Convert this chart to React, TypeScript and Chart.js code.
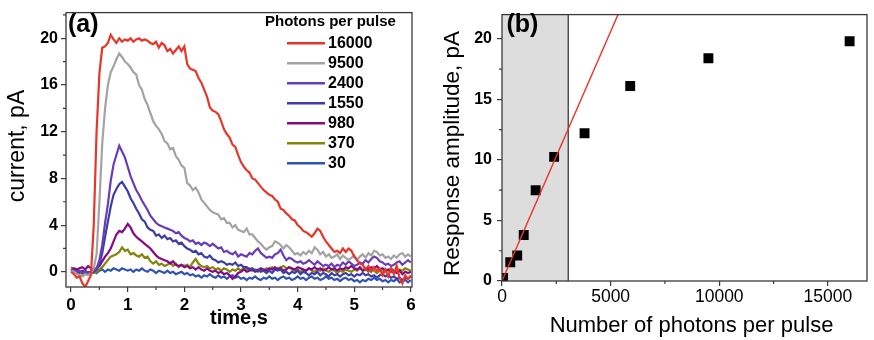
import React, { useEffect, useRef } from 'react';
import { Chart, registerables } from 'chart.js';

Chart.register(...registerables);

// ---------------- Panel (a): current traces ----------------
const TIME_STEP_S = 0.05;
const TIME_S: number[] = Array.from({ length: 121 }, (_, i) => Math.round(i * TIME_STEP_S * 100) / 100);
const TIME_TICKS = [0, 1, 2, 3, 4, 5, 6];
const CURRENT_TICKS = [0, 4, 8, 12, 16, 20];

const PULSE_LABELS = ['16000', '9500', '2400', '1550', '980', '370', '30'];
const PULSE_COLORS = ['#e8352a', '#a3a3a3', '#6a3db8', '#3d3daa', '#860a86', '#85850a', '#2f52b3'];

const CURRENT_16000 = [
  0, -0.2, -0.5, -0.4, -1.0, -1.3, -0.8, -0.3, 4.0, 12.0, 17.0, 19.2, 19.3, 19.6, 20.3, 19.9, 19.6, 20.0, 19.7, 19.9,
  19.8, 20.0, 19.7, 19.9, 20.0, 19.8, 19.9, 19.8, 19.6, 19.5, 19.7, 19.2, 19.6, 19.4, 18.9, 19.1, 18.7, 19.0, 19.3, 18.9,
  19.3, 17.8, 17.4, 17.3, 17.2, 16.6, 16.2, 15.6, 15.0, 14.1, 13.8, 13.7, 13.5, 12.9, 12.2, 11.8, 11.5, 10.9, 10.7, 10.0,
  9.4, 9.0, 8.7, 8.5, 8.0, 7.9, 7.6, 7.3, 7.0, 6.8, 6.6, 6.5, 6.2, 6.0, 5.4, 5.3, 5.0, 4.8, 4.5, 4.4,
  4.0, 3.8, 3.5, 3.4, 3.2, 3.0, 3.3, 3.7, 3.5, 3.0, 2.6, 2.3, 2.0, 1.7, 1.8, 1.6, 2.0, 1.7, 2.0, 1.8,
  1.3, 1.0, 0.7, 0.6, 0.2, 0.5, 0.0, 0.4, 0.1, 0.3, -0.3, 0.2, -0.4, 0.3, -0.2, 0.5, -0.5, -1.0, -0.3, -0.6,
  -0.3,
];
const CURRENT_9500 = [
  0.1, 0, -0.2, -0.3, -0.4, -0.2, -0.3, -0.1, 0.3, 1.5, 6.0, 11.0, 14.0, 16.0, 17.1, 17.6, 18.2, 18.7, 18.4, 18.0,
  17.8, 17.5, 17.1, 16.9, 16.0, 15.6, 14.8, 14.3, 13.6, 12.9, 12.5, 12.2, 11.8, 11.2, 11.0, 10.5, 10.6, 9.9, 9.6, 9.1,
  8.9, 7.6, 7.4, 7.0, 7.2, 6.8, 6.2, 5.9, 5.6, 5.3, 5.1, 5.0, 4.9, 4.5, 4.6, 4.2, 4.2, 3.8, 4.0, 3.6,
  3.5, 3.4, 3.7, 3.2, 3.2, 2.9, 2.6, 2.4, 2.1, 1.9, 2.1, 2.2, 2.6, 2.5, 2.3, 2.0, 2.3, 2.1, 1.8, 1.5,
  1.6, 1.4, 1.7, 1.5, 1.8, 1.6, 2.1, 1.9, 1.5, 1.7, 1.3, 1.5, 1.2, 1.3, 1.5, 1.1, 1.4, 1.2, 1.0, 1.2,
  1.4, 1.0, 1.3, 1.5, 1.2, 1.6, 1.4, 1.8, 1.7, 1.4, 1.5, 1.2, 1.3, 1.1, 1.4, 1.2, 1.5, 1.6, 1.3, 1.5,
  1.3,
];
const CURRENT_2400 = [
  0.2, 0.1, 0, 0.1, -0.1, 0, -0.1, 0, 0.1, 0.3, 1.0, 2.3, 4.2, 5.8, 7.8, 9.2, 10.0, 10.8, 10.3, 9.8,
  9.0, 8.2, 7.6, 7.0, 6.6, 6.1, 5.7, 5.3, 4.8, 4.5, 4.2, 4.0, 3.9, 3.8, 3.7, 3.6, 3.5, 3.3, 3.4, 3.1,
  2.9, 2.8, 2.6, 2.7, 2.4, 2.5, 2.3, 2.5, 2.4, 2.2, 2.4, 2.2, 2.0, 2.1, 1.7, 1.8, 1.6, 1.5, 1.7, 1.3,
  1.5, 1.4, 1.3, 1.6, 1.5, 1.8, 2.0, 1.6, 1.4, 1.2, 1.3, 1.2, 1.5, 1.6, 1.9, 1.4, 1.0, 1.2, 1.1, 0.9,
  0.8, 0.9, 0.7, 0.8, 1.0, 0.8, 0.6, 0.9, 0.7, 0.5, 0.6, 0.5, 0.7, 0.4, 0.6, 0.5, 0.8, 0.6, 0.9, 0.7,
  0.5, 0.6, 0.8, 0.7, 1.0, 0.8, 1.1, 1.3, 1.2, 0.9, 0.8, 0.6, 0.7, 0.5, 0.6, 0.8, 0.9, 0.6, 0.8, 1.0,
  0.8,
];
const CURRENT_1550 = [
  0, 0.1, -0.1, 0, 0.1, -0.1, 0, -0.1, 0, 0.2, 0.6, 1.6, 3.0, 4.3, 5.6, 6.6, 7.1, 7.5, 7.7, 7.3,
  6.9, 6.3, 5.9, 5.4, 5.0, 4.5, 4.3, 3.8, 3.6, 3.5, 3.1, 3.2, 2.9, 3.1, 2.8, 2.9, 2.6, 2.7, 2.4, 2.5,
  2.2, 2.0, 1.9, 1.7, 1.8, 1.5, 1.6, 1.3, 1.2, 1.4, 1.1, 1.0, 0.8, 0.9, 0.8, 0.6, 0.7, 0.6, 0.8, 0.5,
  0.6, 0.4, 0.4, 0.2, 0.3, 0.1, 0.2, 0, 0.1, -0.1, 0.1, -0.1, 0.2, 0.1, 0.2, -0.1, 0, -0.2, 0, -0.1,
  0.1, -0.2, 0, -0.1, -0.3, -0.1, -0.2, 0, -0.3, -0.1, -0.2, -0.4, -0.1, -0.3, -0.2, -0.4, -0.2, -0.1, -0.3, -0.2,
  -0.4, -0.2, -0.3, -0.1, -0.3, -0.2, -0.4, -0.3, -0.5, -0.3, -0.2, -0.4, -0.3, -0.5, -0.4, -0.6, -0.5, -0.7, -0.5, -0.6,
  -0.4,
];
const CURRENT_980 = [
  0.1, 0.3, 0.2, 0.3, 0.4, 0.2, 0.5, 0.3, 0.2, 0.3, 0.5, 0.9, 1.3, 1.6, 2.0, 2.6, 3.2, 3.5, 3.4, 3.7,
  4.1, 3.8, 3.3, 3.0, 2.8, 2.6, 2.4, 2.2, 2.0, 1.7, 1.4, 1.2, 1.1, 1.0, 0.9, 0.7, 0.9, 0.6, 0.5, 0.6,
  0.4, 0.5, 0.3, 0.4, 0.2, 0.4, 0.2, 0.1, 0.3, 0.1, 0, 0.1, -0.1, 0, -0.2, -0.1, -0.3, -0.6, -0.4, -0.1,
  0, 0.2, 0, 0.1, 0.2, 0, 0.1, 0.3, 0.2, 0.1, 0.3, 0.2, 0.4, 0.2, 0.3, 0.1, 0.2, 0.4, 0.3, 0.2,
  0.4, 0.3, 0.2, 0.1, 0.3, 0.2, 0.4, 0.2, 0.3, 0.1, 0.2, 0.4, 0.2, 0.3, 0.1, 0.3, 0.2, 0.4, 0.3, 0.5,
  0.3, 0.2, 0.4, 0.1, 0.3, 0.2, 0.4, 0.3, 0.5, 0.2, 0.3, 0.1, 0.2, 0, 0.1, -0.1, 0.1, -0.2, 0, -0.1,
  0,
];
const CURRENT_370 = [
  0.4, 0.2, -0.1, 0, -0.2, 0.1, -0.1, 0, -0.1, 0, 0.2, 0.4, 0.7, 1.0, 1.3, 1.4, 1.5, 1.7, 2.1, 1.8,
  1.9, 1.5, 1.6, 1.4, 1.3, 1.5, 1.2, 1.3, 0.9, 0.7, 0.9, 0.6, 0.7, 0.5, 0.6, 0.8, 0.5, 0.7, 0.4, 0.6,
  0.5, 0.6, 0.4, 0.8, 1.1, 0.7, 0.5, 0.4, 0.5, 0.3, 0.4, 0.2, 0.3, 0.1, 0.3, 0.2, 0, 0.2, 0.1, 0.3,
  0.1, 0.4, 0.2, 0.3, 0.1, 0.2, 0, 0.2, 0.1, 0.3, 0.2, 0.4, 0.2, 0.3, 0.4, 0.5, 0.3, 0.4, 0.2, 0.1,
  0.2, 0, 0.2, 0.1, 0.3, 0.1, 0, 0.2, 0.1, 0.3, 0.1, 0, 0.2, 0.1, -0.1, 0.1, 0, 0.2, 0.1, 0,
  0.2, 0.1, 0.3, 0.1, 0.2, 0, 0.2, 0.1, -0.1, 0.1, 0, 0.2, 0.1, 0.3, 0.1, 0, 0.2, 0.1, 0.3, 0.2,
  0.1,
];
const CURRENT_30 = [
  0.1, 0, 0.1, -0.1, 0, 0.1, -0.1, 0, 0.1, -0.1, 0.1, 0.2, 0, 0.2, 0.1, 0.3, 0.2, 0.1, 0.3, 0.2,
  0.1, 0.2, 0, 0.2, 0.1, 0.3, 0.1, 0, 0.2, 0.1, -0.1, 0.1, 0, -0.1, 0.1, -0.1, 0, -0.2, -0.1, 0,
  -0.2, -0.1, -0.3, -0.2, -0.4, -0.3, -0.5, -0.3, -0.4, -0.2, -0.4, -0.5, -0.3, -0.5, -0.4, -0.6, -0.4, -0.3, -0.5, -0.4,
  -0.6, -0.5, -0.7, -0.5, -0.6, -0.4, -0.6, -0.7, -0.5, -0.6, -0.4, -0.6, -0.5, -0.7, -0.5, -0.4, -0.6, -0.5, -0.7, -0.6,
  -0.4, -0.6, -0.5, -0.7, -0.5, -0.4, -0.6, -0.5, -0.7, -0.6, -0.4, -0.6, -0.5, -0.7, -0.6, -0.8, -0.6, -0.5, -0.7, -0.6,
  -0.8, -0.7, -0.9, -0.7, -0.8, -0.6, -0.7, -0.5, -0.7, -0.6, -0.8, -0.7, -0.9, -0.7, -0.8, -0.6, -0.9, -0.8, -0.7, -0.9,
  -0.7,
];
const CURRENT_SERIES = [CURRENT_16000, CURRENT_9500, CURRENT_2400, CURRENT_1550, CURRENT_980, CURRENT_370, CURRENT_30];

// ---------------- Panel (b): response amplitude ----------------
const PHOTONS_PER_PULSE = [50, 380, 700, 1000, 1550, 2400, 3800, 5900, 9500, 16000];
const RESPONSE_PA = [0.25, 1.55, 2.1, 3.8, 7.5, 10.25, 12.2, 16.1, 18.4, 19.8];
const PHOTON_TICKS = [0, 5000, 10000, 15000];
const AMPLITUDE_TICKS = [0, 5, 10, 15, 20];
const FIT_SLOPE_PA_PER_PHOTON = 0.00412;
const LINEAR_RANGE_LIMIT = 3050;

// ---------------- Styling ----------------
const FONT = "'Liberation Sans', Arial, Helvetica, sans-serif";
const AXIS_COLOR = '#3a3a3a';
const TEXT_COLOR = '#000';

function frameAndMinor(xMinor: number, yMinor: number) {
  return {
    id: 'frameAndMinor',
    afterDraw(chart: any) {
      const { ctx, chartArea: a, scales } = chart;
      const xs = scales.x;
      const ys = scales.y;
      const mx = xs.ticks.map((t: any) => t.value);
      const my = ys.ticks.map((t: any) => t.value);
      ctx.save();
      ctx.strokeStyle = AXIS_COLOR;
      ctx.lineWidth = 1.2;
      ctx.beginPath();
      for (let k = Math.ceil(xs.min / xMinor); k * xMinor <= xs.max + 1e-9; k++) {
        const v = k * xMinor;
        if (mx.some((m: number) => Math.abs(m - v) < 1e-6)) continue;
        const px = xs.getPixelForValue(v);
        ctx.moveTo(px, a.bottom);
        ctx.lineTo(px, a.bottom + 3);
      }
      for (let k = Math.ceil(ys.min / yMinor); k * yMinor <= ys.max + 1e-9; k++) {
        const v = k * yMinor;
        if (my.some((m: number) => Math.abs(m - v) < 1e-6)) continue;
        const py = ys.getPixelForValue(v);
        ctx.moveTo(a.left, py);
        ctx.lineTo(a.left - 3, py);
      }
      ctx.stroke();
      ctx.lineWidth = 1.3;
      ctx.strokeRect(a.left, a.top, a.right - a.left, a.bottom - a.top);
      ctx.restore();
    },
  };
}

const panelADecor = {
  id: 'panelADecor',
  afterDraw(chart: any) {
    const { ctx } = chart;
    ctx.save();
    ctx.fillStyle = TEXT_COLOR;
    ctx.font = `bold 25px ${FONT}`;
    ctx.textAlign = 'left';
    ctx.textBaseline = 'alphabetic';
    ctx.fillText('(a)', 68, 31.5);
    ctx.font = `bold 15px ${FONT}`;
    ctx.fillText('Photons per pulse', 265, 25.5);
    ctx.font = `bold 16px ${FONT}`;
    ctx.textBaseline = 'middle';
    chart.data.datasets.forEach((ds: any, i: number) => {
      const y = 43.3 + 20 * i;
      ctx.strokeStyle = ds.borderColor;
      ctx.lineWidth = 2.5;
      ctx.beginPath();
      ctx.moveTo(287, y);
      ctx.lineTo(325, y);
      ctx.stroke();
      ctx.fillText(ds.label, 328, y + 0.5);
    });
    ctx.textAlign = 'center';
    ctx.textBaseline = 'alphabetic';
    ctx.font = `bold 20px ${FONT}`;
    ctx.fillText('time,s', 239, 324);
    ctx.save();
    ctx.translate(18, 146);
    ctx.rotate(-Math.PI / 2);
    ctx.textBaseline = 'middle';
    ctx.font = `normal 23px ${FONT}`;
    ctx.fillText('current, pA', 0, 0);
    ctx.restore();
    ctx.restore();
  },
};

const panelBDecor = {
  id: 'panelBDecor',
  beforeDatasetsDraw(chart: any) {
    const { ctx, chartArea: a, scales } = chart;
    const x0 = scales.x.getPixelForValue(0);
    const x1 = scales.x.getPixelForValue(LINEAR_RANGE_LIMIT);
    ctx.save();
    ctx.fillStyle = '#dddddd';
    ctx.fillRect(x0, a.top, x1 - x0, a.bottom - a.top);
    ctx.strokeStyle = '#4a4a4a';
    ctx.lineWidth = 1.4;
    ctx.beginPath();
    ctx.moveTo(x1, a.top);
    ctx.lineTo(x1, a.bottom);
    ctx.stroke();
    ctx.restore();
  },
  afterDraw(chart: any) {
    const { ctx } = chart;
    ctx.save();
    ctx.fillStyle = TEXT_COLOR;
    ctx.font = `bold 25px ${FONT}`;
    ctx.textAlign = 'left';
    ctx.textBaseline = 'alphabetic';
    ctx.fillText('(b)', 66.5, 31.5);
    ctx.textAlign = 'center';
    ctx.font = `normal 22px ${FONT}`;
    ctx.fillText('Number of photons per pulse', 251.5, 332);
    ctx.save();
    ctx.translate(13, 153.5);
    ctx.rotate(-Math.PI / 2);
    ctx.textBaseline = 'middle';
    ctx.font = `normal 22.5px ${FONT}`;
    ctx.fillText('Response amplitude, pA', 0, 0);
    ctx.restore();
    ctx.restore();
  },
};

function axisCommon(tickValues: number[]) {
  return {
    grid: { display: true, drawOnChartArea: false, drawTicks: true, tickLength: 5, color: AXIS_COLOR, lineWidth: 1.2 },
    border: { display: false },
    afterBuildTicks: (s: any) => {
      s.ticks = tickValues.map((v) => ({ value: v }));
    },
  };
}

function makeConfigA(): any {
  return {
    type: 'line',
    data: {
      datasets: CURRENT_SERIES.map((series, i) => ({
        label: PULSE_LABELS[i],
        data: TIME_S.map((t, j) => ({ x: t, y: series[j] })),
        borderColor: PULSE_COLORS[i],
        backgroundColor: PULSE_COLORS[i],
        borderWidth: 2.2,
        pointRadius: 0,
        tension: 0,
        clip: 0,
      })),
    },
    options: {
      animation: false,
      responsive: false,
      events: [],
      layout: { padding: { left: 0, top: 5, right: 28, bottom: 0 } },
      plugins: { legend: { display: false }, tooltip: { enabled: false }, title: { display: false } },
      scales: {
        x: {
          type: 'linear',
          min: -0.09,
          max: 6.02,
          ...axisCommon(TIME_TICKS),
          ticks: { autoSkip: false, maxRotation: 0, padding: 3, color: TEXT_COLOR, font: { family: FONT, size: 17, weight: 'bold' } },
          afterFit: (s: any) => { s.height = 53; },
        },
        y: {
          type: 'linear',
          min: -1.3,
          max: 22.2,
          ...axisCommon(CURRENT_TICKS),
          ticks: { autoSkip: false, padding: 3, color: TEXT_COLOR, font: { family: FONT, size: 16, weight: 'bold' } },
          afterFit: (s: any) => { s.width = 66; },
        },
      },
    },
    plugins: [frameAndMinor(0.5, 2), panelADecor],
  };
}

function makeConfigB(): any {
  const xMax = 16800;
  return {
    type: 'scatter',
    data: {
      datasets: [
        {
          type: 'line',
          label: 'linear fit',
          data: [
            { x: 0, y: 0 },
            { x: xMax, y: FIT_SLOPE_PA_PER_PHOTON * xMax },
          ],
          borderColor: '#e8352a',
          borderWidth: 1.4,
          pointRadius: 0,
          tension: 0,
          clip: 0,
        },
        {
          type: 'scatter',
          label: 'amplitude',
          data: PHOTONS_PER_PULSE.map((p, i) => ({ x: p, y: RESPONSE_PA[i] })),
          pointStyle: 'rect',
          pointRadius: 7,
          backgroundColor: '#000',
          borderColor: '#000',
          borderWidth: 0,
          clip: 0,
        },
      ],
    },
    options: {
      animation: false,
      responsive: false,
      events: [],
      layout: { padding: { left: 0, top: 6, right: 1, bottom: 0 } },
      plugins: { legend: { display: false }, tooltip: { enabled: false }, title: { display: false } },
      scales: {
        x: {
          type: 'linear',
          min: 0,
          max: xMax,
          ...axisCommon(PHOTON_TICKS),
          ticks: { autoSkip: false, maxRotation: 0, padding: 1, color: TEXT_COLOR, font: { family: FONT, size: 17.5, weight: 'normal' }, callback: (v: any) => String(v) },
          afterFit: (s: any) => { s.height = 59; },
        },
        y: {
          type: 'linear',
          min: 0,
          max: 22,
          ...axisCommon(AMPLITUDE_TICKS),
          ticks: { autoSkip: false, padding: 5, color: TEXT_COLOR, font: { family: FONT, size: 16, weight: 'bold' } },
          afterFit: (s: any) => { s.width = 62; },
        },
      },
    },
    plugins: [frameAndMinor(2500, 2.5), panelBDecor],
  };
}

function ChartCanvas({ make, left, width }: { make: () => any; left: number; width: number }) {
  const ref = useRef<HTMLCanvasElement>(null);
  useEffect(() => {
    const chart = new Chart(ref.current as HTMLCanvasElement, make());
    return () => chart.destroy();
  }, []);
  return (
    <canvas
      ref={ref}
      width={width}
      height={340}
      style={{ position: 'absolute', left, top: 0, width, height: 340, display: 'block' }}
    />
  );
}

export default function App() {
  return (
    <div style={{ position: 'absolute', left: 0, top: 0, width: 874, height: 340, background: '#fff', overflow: 'hidden' }}>
      <ChartCanvas make={makeConfigA} left={0} width={440} />
      <ChartCanvas make={makeConfigB} left={440} width={434} />
    </div>
  );
}
